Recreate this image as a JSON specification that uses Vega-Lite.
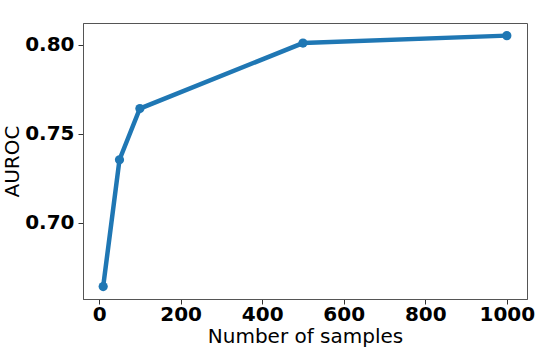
{
  "$schema": "https://vega.github.io/schema/vega-lite/v6.json",
  "autosize": "none",
  "width": 444,
  "height": 276,
  "padding": {"left": 83, "top": 23, "right": 33, "bottom": 51},
  "background": "white",
  "config": {
    "font": "DejaVu Sans",
    "view": {"stroke": "#555", "strokeWidth": 1},
    "axis": {
      "grid": false,
      "domainColor": "#555",
      "domainWidth": 1,
      "tickColor": "#333",
      "tickSize": 5,
      "tickWidth": 1,
      "labelFont": "DejaVu Sans",
      "labelFontWeight": "bold",
      "labelFontSize": 20,
      "labelColor": "black",
      "labelPadding": 4,
      "titleFont": "DejaVu Sans",
      "titleFontWeight": "normal",
      "titleFontSize": 20,
      "titleColor": "black"
    }
  },
  "data": {
    "values": [
      {"n": 10, "auroc": 0.6641},
      {"n": 50, "auroc": 0.7354},
      {"n": 100, "auroc": 0.7642},
      {"n": 500, "auroc": 0.801},
      {"n": 1000, "auroc": 0.8052}
    ]
  },
  "encoding": {
    "x": {
      "field": "n",
      "type": "quantitative",
      "title": "Number of samples",
      "scale": {"domain": [-39.5, 1049.5], "nice": false, "zero": false},
      "axis": {"values": [0, 200, 400, 600, 800, 1000], "format": "d", "labelPadding": 0, "titlePadding": 2, "labelFlush": false}
    },
    "y": {
      "field": "auroc",
      "type": "quantitative",
      "title": "AUROC",
      "scale": {"domain": [0.6571, 0.8123], "nice": false, "zero": false},
      "axis": {"values": [0.70, 0.75, 0.80], "format": ".2f", "titlePadding": 2, "labelFlush": false}
    }
  },
  "layer": [
    {"mark": {"type": "line", "color": "#1f77b4", "strokeWidth": 4.5}},
    {"mark": {"type": "point", "filled": true, "color": "#1f77b4", "opacity": 1, "size": 85}}
  ]
}
